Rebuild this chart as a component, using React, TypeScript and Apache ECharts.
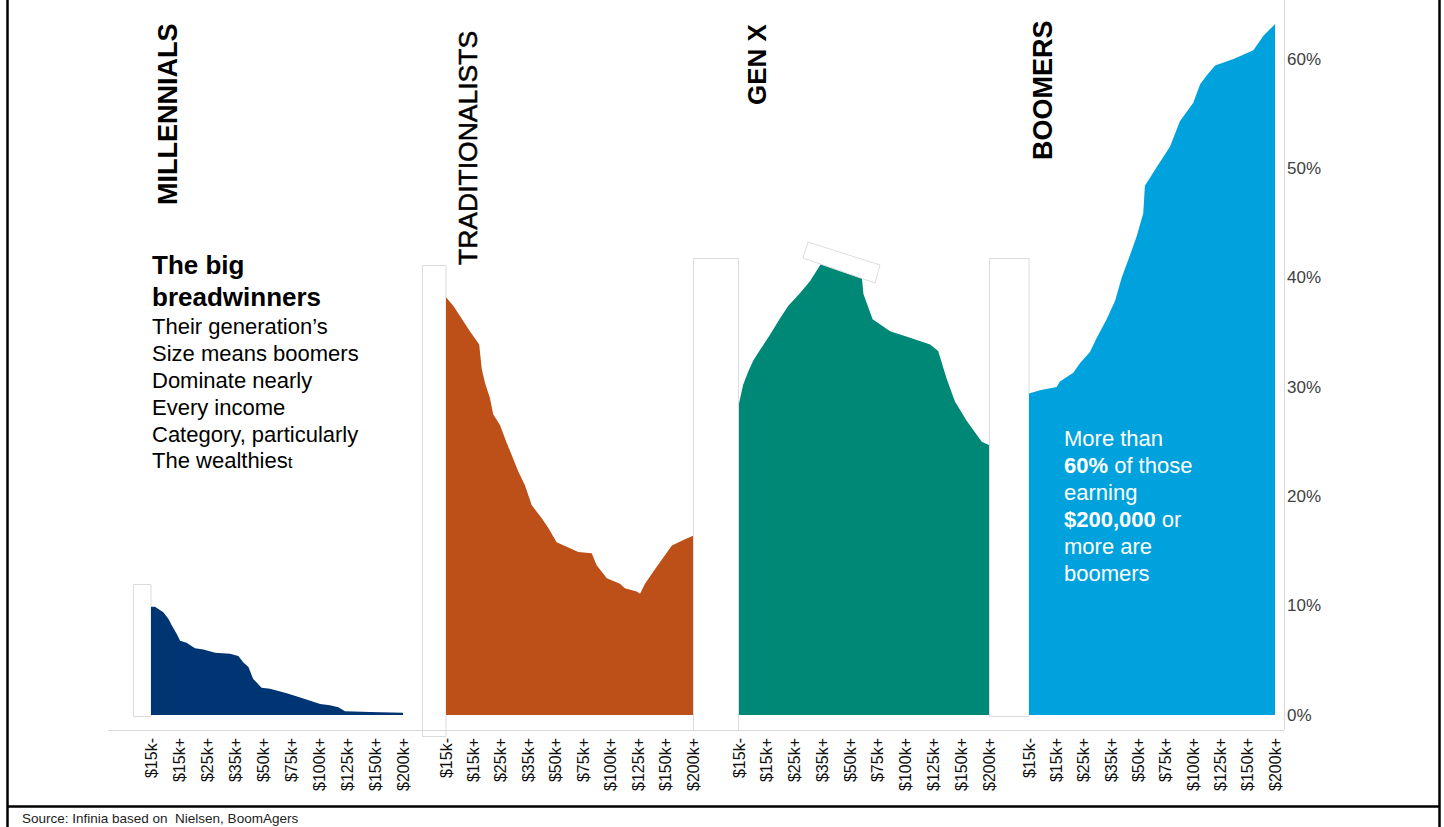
import React, { useEffect, useRef } from "react";
import * as echarts from "echarts";

const incomeLabels = ["$15k-", "$15k+", "$25k+", "$35k+", "$50k+", "$75k+", "$100k+", "$125k+", "$150k+", "$200k+"];

const generations = ["MILLENNIALS", "TRADITIONALISTS", "GEN X", "BOOMERS"];

// [income position, share %]
const millennials: [number, number][] = [
  [0, 9.9], [0.14, 9.9], [0.44, 9.4], [0.62, 8.8], [0.74, 8.2], [0.92, 7.4], [1.04, 6.8], [1.27, 6.6],
  [1.57, 6.1], [1.87, 6.0], [2.29, 5.7], [2.82, 5.6], [3.12, 5.4], [3.3, 4.8], [3.48, 4.4], [3.65, 3.3],
  [3.95, 2.5], [4.25, 2.4], [4.85, 2.0], [5.44, 1.5], [6.04, 1.0], [6.39, 0.9], [6.69, 0.7], [6.93, 0.35],
  [7.82, 0.28], [9, 0.2],
];

const traditionalists: [number, number][] = [
  [0, 38.2], [0.27, 37.4], [0.51, 36.5], [0.87, 35.1], [1.21, 33.9], [1.3, 31.7], [1.42, 30.4], [1.6, 29.0],
  [1.72, 27.5], [1.97, 26.5], [2.21, 24.9], [2.39, 23.8], [2.63, 22.3], [2.88, 21.0], [3.12, 19.2], [3.49, 18.0],
  [3.73, 17.1], [4.03, 15.8], [4.4, 15.4], [4.82, 14.9], [5.31, 14.8], [5.49, 13.7], [5.86, 12.5], [6.34, 12.0],
  [6.52, 11.6], [6.95, 11.3], [7.07, 11.1], [7.25, 12.0], [7.55, 13.1], [7.86, 14.2], [8.23, 15.5], [8.65, 16.0],
  [9, 16.4],
];

const genX: [number, number][] = [
  [0, 28.5], [0.15, 30.2], [0.33, 31.4], [0.51, 32.4], [0.76, 33.4], [1.12, 34.8], [1.48, 36.3], [1.77, 37.4],
  [2.2, 38.6], [2.56, 39.7], [2.98, 41.4], [3.7, 40.8], [4.42, 40.1], [4.48, 38.5], [4.81, 36.2], [5.44, 35.1],
  [6.16, 34.5], [6.88, 33.9], [7.17, 33.3], [7.47, 30.8], [7.77, 28.7], [8.2, 26.9], [8.74, 25.0], [9, 24.7],
];

const boomers: [number, number][] = [
  [0, 29.4], [0.4, 29.7], [1.01, 30.0], [1.13, 30.5], [1.62, 31.3], [1.87, 32.2], [2.23, 33.2], [2.48, 34.5],
  [2.84, 36.2], [3.15, 37.9], [3.39, 40.0], [3.7, 42.1], [3.94, 43.8], [4.18, 45.9], [4.24, 48.4], [4.67, 50.1],
  [5.16, 52.0], [5.52, 54.3], [6.01, 56.0], [6.26, 57.7], [6.5, 58.5], [6.81, 59.4], [7.48, 60.0], [8.21, 60.8],
  [8.57, 62.1], [9, 63.2],
];

const seriesData = [millennials, traditionalists, genX, boomers];
const seriesColors = ["#003574", "#bd5019", "#008877", "#00a2de"];

const FONT = "'Liberation Sans', Arial, sans-serif";

const gridBoxes = [
  { left: 151, width: 252 },
  { left: 446, width: 247 },
  { left: 739, width: 250 },
  { left: 1029, width: 246 },
];

export default function App() {
  const ref = useRef<HTMLDivElement>(null);

  useEffect(() => {
    if (!ref.current) return;
    const chart = echarts.init(ref.current, null, { renderer: "svg" });

    const grids = gridBoxes.map((g) => ({ left: g.left, width: g.width, top: 0, height: 715 }));

    const xAxes = gridBoxes.map((_, i) => ({
      type: "value",
      gridIndex: i,
      min: 0,
      max: 9,
      interval: 1,
      axisLine: { show: false },
      axisTick: { show: false },
      splitLine: { show: false },
      axisLabel: {
        rotate: 90,
        margin: 23,
        fontSize: 16,
        fontFamily: FONT,
        color: "#111",
        formatter: (v: number) => incomeLabels[Math.round(v)] ?? "",
      },
    }));

    const yAxes = gridBoxes.map((_, i) => ({
      type: "value",
      gridIndex: i,
      min: 0,
      max: 65.4,
      interval: 10,
      show: i === 3,
      position: "right",
      offset: 9,
      axisLine: { show: true, onZero: false, lineStyle: { color: "#d9d9d9", width: 1 } },
      axisTick: { show: false },
      splitLine: { show: false },
      axisLabel: {
        showMaxLabel: false,
        margin: 3,
        fontSize: 17,
        fontFamily: FONT,
        color: "#404040",
        formatter: "{value}%",
      },
    }));

    const series = seriesData.map((d, i) => ({
      name: generations[i],
      type: "line",
      xAxisIndex: i,
      yAxisIndex: i,
      data: d,
      showSymbol: false,
      symbol: "none",
      lineStyle: { width: 0 },
      areaStyle: { color: seriesColors[i], opacity: 1 },
      itemStyle: { color: seriesColors[i] },
      silent: true,
    }));

    const boxStroke = "#dcdcdc";

    const graphic: any[] = [
      // white frame boxes
      { type: "rect", shape: { x: 133.5, y: 584.5, width: 17.5, height: 132 }, style: { fill: "#fff", stroke: boxStroke, lineWidth: 1 }, z: 1 },
      { type: "rect", shape: { x: 422.5, y: 265.5, width: 23.5, height: 471 }, style: { fill: "#fff", stroke: boxStroke, lineWidth: 1 }, z: 1 },
      { type: "rect", shape: { x: 693.5, y: 258.5, width: 45, height: 472 }, style: { fill: "#fff", stroke: boxStroke, lineWidth: 1 }, z: 1 },
      { type: "rect", shape: { x: 989.5, y: 258.5, width: 39.5, height: 458 }, style: { fill: "#fff", stroke: boxStroke, lineWidth: 1 }, z: 1 },
      // x axis base line and right axis foot
      { type: "line", shape: { x1: 108, y1: 730.5, x2: 1284, y2: 730.5 }, style: { stroke: "#d9d9d9", lineWidth: 1 }, z: 5 },
      { type: "line", shape: { x1: 1284.5, y1: 715, x2: 1284.5, y2: 730 }, style: { stroke: "#d9d9d9", lineWidth: 1 }, z: 5 },
      // tilted frame on Gen X peak
      {
        type: "polygon",
        shape: { points: [[808, 242], [880, 265], [875, 283], [803, 258]] },
        style: { fill: "#fff", stroke: "#dddddd", lineWidth: 1 },
        z: 100,
      },
      // outer frame
      { type: "line", shape: { x1: 7.5, y1: 0, x2: 7.5, y2: 827 }, style: { stroke: "#000", lineWidth: 2.5 }, z: 100 },
      { type: "line", shape: { x1: 1439.5, y1: 0, x2: 1439.5, y2: 827 }, style: { stroke: "#000", lineWidth: 2.5 }, z: 100 },
      { type: "line", shape: { x1: 7, y1: 806.5, x2: 1440, y2: 806.5 }, style: { stroke: "#000", lineWidth: 2.5 }, z: 100 },
      // generation titles
      {
        type: "text", x: 168, y: 205, rotation: Math.PI / 2, z: 100,
        style: { text: generations[0], fontSize: 27, fontWeight: "bold", fontFamily: FONT, fill: "#000", align: "left", verticalAlign: "middle" },
      },
      {
        type: "text", x: 468, y: 265, rotation: Math.PI / 2, z: 100,
        style: { text: generations[1], fontSize: 26.5, fontWeight: "normal", fontFamily: FONT, fill: "#000", stroke: "#000", lineWidth: 0.5, align: "left", verticalAlign: "middle" },
      },
      {
        type: "text", x: 757, y: 105, rotation: Math.PI / 2, z: 100,
        style: { text: generations[2], fontSize: 26, fontWeight: "bold", fontFamily: FONT, fill: "#000", align: "left", verticalAlign: "middle" },
      },
      {
        type: "text", x: 1043, y: 160, rotation: Math.PI / 2, z: 100,
        style: { text: generations[3], fontSize: 27, fontWeight: "bold", fontFamily: FONT, fill: "#000", align: "left", verticalAlign: "middle" },
      },
      // left annotation
      {
        type: "text", x: 152, y: 249, z: 100,
        style: {
          text: "The big\nbreadwinners",
          fontSize: 26, fontWeight: "bold", fontFamily: FONT, fill: "#000", lineHeight: 32,
          align: "left", verticalAlign: "top",
        },
      },
      {
        type: "text", x: 152, y: 313.5, z: 100,
        style: {
          text: "Their generation\u2019s\nSize means boomers\nDominate nearly\nEvery income\nCategory, particularly\nThe wealthies{s|t}",
          fontSize: 22, fontFamily: FONT, fill: "#000", lineHeight: 26.8,
          align: "left", verticalAlign: "top",
          rich: { s: { fontSize: 17, fontFamily: FONT, fill: "#000", lineHeight: 26.8, verticalAlign: "middle", padding: [3, 0, 0, 0] } },
        },
      },
      // boomers annotation
      {
        type: "text", x: 1064, y: 424.5, z: 100,
        style: {
          text: "More than\n{b|60%} of those\nearning\n{b|$200,000} or\nmore are\nboomers",
          fontSize: 22, fontFamily: FONT, fill: "#fff", lineHeight: 27,
          align: "left", verticalAlign: "top",
          rich: { b: { fontSize: 22, fontWeight: "bold", fontFamily: FONT, fill: "#fff", lineHeight: 27 } },
        },
      },
      // source
      {
        type: "text", x: 22, y: 818, z: 100,
        style: {
          text: "Source: Infinia based on  Nielsen, BoomAgers",
          fontSize: 13.5, fontFamily: "'Liberation Sans Narrow', 'Liberation Sans', Arial, sans-serif", fill: "#222",
          align: "left", verticalAlign: "middle",
        },
      },
    ];

    chart.setOption({
      animation: false,
      backgroundColor: "#fff",
      grid: grids,
      xAxis: xAxes,
      yAxis: yAxes,
      series,
      graphic,
    });

    return () => chart.dispose();
  }, []);

  return (
    <div
      ref={ref}
      style={{ position: "fixed", left: 0, top: 0, width: 1444, height: 827, background: "#fff" }}
    />
  );
}
